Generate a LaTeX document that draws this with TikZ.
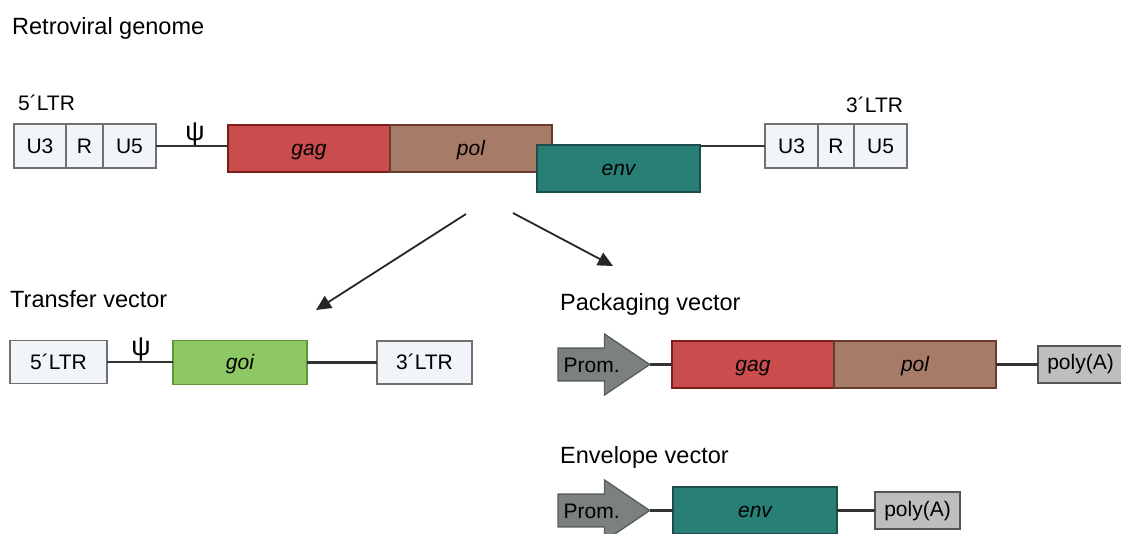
\documentclass[tikz,border=0pt]{standalone}
\usepackage{fontspec}
\setmainfont{Liberation Sans}
\usetikzlibrary{positioning,shapes.arrows,arrows.meta}

\definecolor{ltrfill}{HTML}{F1F4F9}
\definecolor{ltrdraw}{HTML}{707070}
\definecolor{gagfill}{HTML}{C94D4D}
\definecolor{gagdraw}{HTML}{7A1E1E}
\definecolor{polfill}{HTML}{A67C68}
\definecolor{poldraw}{HTML}{6A3B2A}
\definecolor{envfill}{HTML}{277F76}
\definecolor{envdraw}{HTML}{1E4E4A}
\definecolor{goifill}{HTML}{8DC865}
\definecolor{goidraw}{HTML}{5C963A}
\definecolor{promfill}{HTML}{7B8181}
\definecolor{promdraw}{HTML}{5A6060}
\definecolor{polyfill}{HTML}{BEBEBE}
\definecolor{polydraw}{HTML}{555555}
\definecolor{linkcol}{HTML}{333333}

\begin{document}
\begin{tikzpicture}[x=1pt,y=-1pt,
					font=\fontsize{21}{25}\selectfont,
					ltr box/.style={draw=ltrdraw,fill=ltrfill,line width=1.6pt,minimum height=44pt,inner sep=0pt,outer sep=0pt,text height=15pt,text depth=0pt},
					gene box/.style={line width=1.6pt,minimum height=47pt,minimum width=162pt,inner sep=0pt,outer sep=0pt,text height=14pt,text depth=0pt,font=\fontsize{21}{25}\selectfont\itshape},
					gag gene/.style={gene box,draw=gagdraw,fill=gagfill},
					pol gene/.style={gene box,draw=poldraw,fill=polfill},
					env gene/.style={gene box,draw=envdraw,fill=envfill,minimum width=164pt},
					goi gene/.style={gene box,draw=goidraw,fill=goifill,minimum width=134pt,minimum height=44pt},
					prom/.style={single arrow,draw=promdraw,fill=promfill,line width=1.4pt,anchor=tail,
						minimum height=91pt,minimum width=61pt,single arrow head extend=14pt,
						single arrow tip angle=68,inner xsep=5pt,inner ysep=8pt,outer sep=0pt,
						text height=15pt,text depth=0pt},
					polya/.style={draw=polydraw,fill=polyfill,line width=1.6pt,minimum width=85pt,minimum height=37pt,inner sep=0pt,outer sep=0pt,text height=15pt,text depth=4pt},
					psi/.style={font=\fontsize{27}{30}\selectfont,inner sep=0pt},
					title/.style={anchor=base west,inner sep=0pt,font=\fontsize{23.5}{28}\selectfont},
					label/.style={anchor=base west,inner sep=0pt},
					link/.style={draw=linkcol,line width=2.2pt},
					split/.style={-{Triangle[length=15pt,width=14pt]},line width=1.8pt,draw=black!85}]

  \useasboundingbox (0,0) rectangle (1121,534);

  % retroviral genome
  \node[title] (genome) at (12,35) {Retroviral genome};
  \node[label] (ltr5 label) at (18,111) {5´LTR};
  \node[label] (ltr3 label) at (846,113) {3´LTR};

  \node[ltr box,minimum width=52pt] (u3a) at (40,146) {U3};
  \node[ltr box,minimum width=37pt,right=0pt of u3a] (ra) {R};
  \node[ltr box,minimum width=53pt,right=0pt of ra] (u5a) {U5};
  \node[psi] (psi a) at (195,134) {ψ};

  \node[gag gene] (gag) at (309,148.5) {gag};
  \node[pol gene,right=0pt of gag] (pol) {pol};
  \node[env gene,minimum width=163pt] (env) at (618.5,168.5) {env};

  \node[ltr box,minimum width=53pt] (u3b) at (791.5,146) {U3};
  \node[ltr box,minimum width=36pt,right=0pt of u3b] (rb) {R};
  \node[ltr box,minimum width=53pt,right=0pt of rb] (u5b) {U5};

  \path[link]
    (u5a.east) -- (u5a.east -| gag.west)
    (env.east |- u3b.west) -- (u3b.west);

  % split
  \coordinate (split l) at (466,214);
  \coordinate (split r) at (513,213);
  \coordinate (to transfer) at (316,310);
  \coordinate (to packaging) at (613,266);
  \draw[split] (split l) -- (to transfer);
  \draw[split] (split r) -- (to packaging);

  % transfer vector
  \node[title] (transfer) at (10,308) {Transfer vector};
  \node[ltr box,minimum width=97pt,minimum height=43pt] (ltr5) at (58.5,362) {5´LTR};
  \node[psi] (psi b) at (141,349) {ψ};
  \node[goi gene] (goi) at (240,362.5) {goi};
  \node[ltr box,minimum width=95pt,minimum height=43pt] (ltr3) at (424.5,362.5) {3´LTR};
  \path[link]
    (ltr5.east) -- (ltr5.east -| goi.west)
    (goi.east) -- (goi.east -| ltr3.west);

  % packaging vector
  \node[title] (packaging) at (560,311) {Packaging vector};
  \node[prom] (prom a) at (558,364.5) {Prom.};
  \node[gag gene] (gag b) at (753,364.5) {gag};
  \node[pol gene,right=0pt of gag b] (pol b) {pol};
  \node[polya,anchor=west] (polya a) at (1038,364.5) {poly(A)};
  \path[link]
    (prom a.tip) -- (gag b.west)
    (pol b.east) -- (polya a.west);

  % envelope vector
  \node[title] (envelope) at (560,463) {Envelope vector};
  \node[prom] (prom b) at (558,510.5) {Prom.};
  \node[env gene] (env b) at (755,510.5) {env};
  \node[polya] (polya b) at (917.5,510.5) {poly(A)};
  \path[link]
    (prom b.tip) -- (env b.west)
    (env b.east) -- (polya b.west);
\end{tikzpicture}
\end{document}
